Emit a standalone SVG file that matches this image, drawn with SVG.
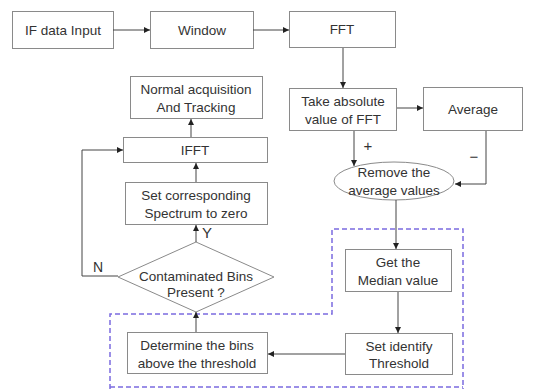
<svg xmlns="http://www.w3.org/2000/svg" width="534" height="389" viewBox="0 0 534 389">
<defs>
<marker id="ah" markerWidth="8" markerHeight="8" refX="7" refY="4" orient="auto" markerUnits="userSpaceOnUse">
<path d="M1,1 L7,4 L1,7 Z" fill="#222"/>
</marker>
<style>
.box{fill:#fff;stroke:#8a8a8a;stroke-width:1}
.t{font-family:"Liberation Sans",Arial,sans-serif;font-size:13.5px;fill:#333;text-anchor:middle}
.c{fill:none;stroke:#444;stroke-width:1;marker-end:url(#ah)}
.l{fill:none;stroke:#444;stroke-width:1}
.d{fill:none;stroke:#7b6be0;stroke-width:1.5;stroke-dasharray:5 3}
</style>
</defs>
<rect width="534" height="389" fill="#fff"/>
<path class="d" d="M110,389 L110,314 L332,314 L332,229 L463,229 L463,389 M110,387 L463,387"/>
<g id="n1"><rect class="box" x="12.5" y="11.5" width="101" height="37"/><text class="t" x="63" y="35">IF data Input</text></g>
<g id="n2"><rect class="box" x="150.5" y="11.5" width="103" height="37"/><text class="t" x="202" y="35">Window</text></g>
<g id="n3"><rect class="box" x="289.5" y="11.5" width="106" height="36"/><text class="t" x="342" y="34">FFT</text></g>
<g id="n4"><rect class="box" x="289.5" y="88.5" width="107" height="42"/><text class="t" x="343" y="106">Take absolute</text><text class="t" x="343" y="124">value of FFT</text></g>
<g id="n5"><rect class="box" x="423.5" y="87.5" width="99" height="43"/><text class="t" x="473" y="114">Average</text></g>
<g id="n6"><ellipse class="box" cx="394" cy="181" rx="60" ry="19"/><text class="t" x="394" y="177">Remove the</text><text class="t" x="394" y="195">average values</text></g>
<g id="n7"><rect class="box" x="345.5" y="249.5" width="106" height="42"/><text class="t" x="398" y="267">Get the</text><text class="t" x="398" y="285">Median value</text></g>
<g id="n8"><rect class="box" x="345.5" y="333.5" width="107" height="41"/><text class="t" x="399" y="351">Set identify</text><text class="t" x="399" y="368">Threshold</text></g>
<g id="n9"><rect class="box" x="127.5" y="332.5" width="140" height="41"/><text class="t" x="197" y="350">Determine the bins</text><text class="t" x="197" y="368">above the threshold</text></g>
<g id="n10"><polygon class="box" points="196,242 274,277 196,312 118,277"/><text class="t" x="196" y="281">Contaminated  Bins</text><text class="t" x="196" y="297">Present ?</text></g>
<g id="n11"><rect class="box" x="125.5" y="182.5" width="142" height="42"/><text class="t" x="196" y="200">Set corresponding</text><text class="t" x="196" y="218">Spectrum to zero</text></g>
<g id="n12"><rect class="box" x="123.5" y="137.5" width="144" height="25"/><text class="t" x="195" y="155">IFFT</text></g>
<g id="n13"><rect class="box" x="130.5" y="76.5" width="132" height="42"/><text class="t" x="196" y="94">Normal acquisition</text><text class="t" x="196" y="112">And Tracking</text></g>
<g id="connectors">
<path class="c" d="M113,30 L150,30"/>
<path class="c" d="M253,30 L289,30"/>
<path class="c" d="M343,48 L343,88"/>
<path class="c" d="M397,108 L423,108"/>
<path class="c" d="M354,131 L354,166"/>
<path class="c" d="M486,131 L486,184 L455,184"/>
<path class="c" d="M396,200 L396,249"/>
<path class="c" d="M398,292 L398,333"/>
<path class="c" d="M345,354 L268,354"/>
<path class="c" d="M196,332 L196,312"/>
<path class="c" d="M196,242 L196,225"/>
<path class="c" d="M196,182 L196,163"/>
<path class="c" d="M191,137 L191,119"/>
<path class="c" d="M118,276 L82,276 L82,150 L123,150"/>
<text class="t" x="207" y="238" style="font-size:15px">Y</text>
<text class="t" x="98" y="272" style="font-size:14px">N</text>
<text class="t" x="368" y="151" style="font-size:15px">+</text>
<text class="t" x="474" y="162" style="font-size:15px">−</text>
</g>
</svg>
